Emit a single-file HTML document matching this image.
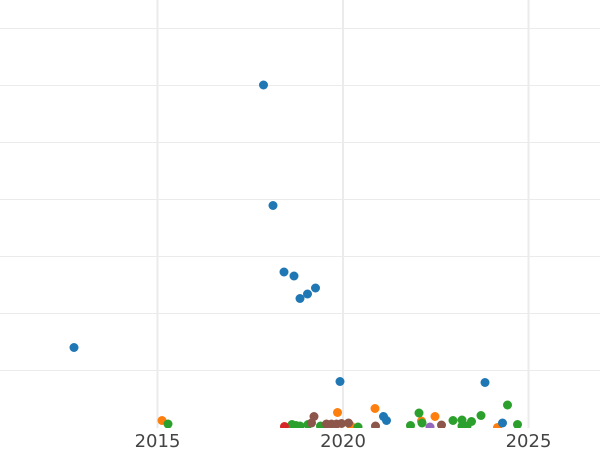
<!DOCTYPE html>
<html>
<head>
<meta charset="utf-8">
<style>
html,body{margin:0;padding:0;background:#fff;}
svg{display:block;}
</style>
</head>
<body>
<svg width="600" height="450" viewBox="0 0 600 450" xmlns="http://www.w3.org/2000/svg">
<defs>
<clipPath id="plot"><rect x="0" y="0" width="600" height="428"/></clipPath>
</defs>
<rect x="0" y="0" width="600" height="450" fill="#fff"/>
<g stroke="#ebebeb" stroke-width="1">
<line x1="0" y1="28.5" x2="600" y2="28.5"/>
<line x1="0" y1="85.5" x2="600" y2="85.5"/>
<line x1="0" y1="142.5" x2="600" y2="142.5"/>
<line x1="0" y1="199.5" x2="600" y2="199.5"/>
<line x1="0" y1="256.5" x2="600" y2="256.5"/>
<line x1="0" y1="313.5" x2="600" y2="313.5"/>
<line x1="0" y1="370.5" x2="600" y2="370.5"/>
</g>
<g stroke="#ebebeb" stroke-width="2">
<line x1="157.5" y1="0" x2="157.5" y2="428"/>
<line x1="343" y1="0" x2="343" y2="428"/>
<line x1="528.5" y1="0" x2="528.5" y2="428"/>
</g>
<g clip-path="url(#plot)">
<g fill="#ff7f0e">
<circle cx="162" cy="420.5" r="4.5"/>
<circle cx="337.5" cy="412.5" r="4.5"/>
<circle cx="351" cy="426" r="4.5"/>
<circle cx="375" cy="408.5" r="4.5"/>
<circle cx="421.5" cy="421" r="4.5"/>
<circle cx="435" cy="416.5" r="4.5"/>
<circle cx="497.5" cy="427.5" r="4.5"/>
</g>
<g fill="#2ca02c">
<circle cx="168" cy="424" r="4.5"/>
<circle cx="292" cy="424.5" r="4.5"/>
<circle cx="296" cy="425.5" r="4.5"/>
<circle cx="300" cy="426" r="4.5"/>
<circle cx="308" cy="424.5" r="4.5"/>
<circle cx="320.5" cy="426" r="4.5"/>
<circle cx="358" cy="427" r="4.5"/>
<circle cx="410.5" cy="425.5" r="4.5"/>
<circle cx="419" cy="413" r="4.5"/>
<circle cx="422" cy="423" r="4.5"/>
<circle cx="453" cy="420.5" r="4.5"/>
<circle cx="462" cy="420" r="4.5"/>
<circle cx="462" cy="426" r="4.5"/>
<circle cx="467" cy="426" r="4.5"/>
<circle cx="471.5" cy="421.5" r="4.5"/>
<circle cx="481" cy="415.5" r="4.5"/>
<circle cx="507.5" cy="405" r="4.5"/>
<circle cx="517.5" cy="424.5" r="4.5"/>
</g>
<g fill="#d62728">
<circle cx="284.5" cy="426.5" r="4.5"/>
</g>
<g fill="#9467bd">
<circle cx="430" cy="427" r="4.5"/>
</g>
<g fill="#8c564b">
<circle cx="311.5" cy="423" r="4.5"/>
<circle cx="314" cy="416.5" r="4.5"/>
<circle cx="326.5" cy="424" r="4.5"/>
<circle cx="331.5" cy="424" r="4.5"/>
<circle cx="336.5" cy="424" r="4.5"/>
<circle cx="341.5" cy="423.5" r="4.5"/>
<circle cx="348.5" cy="423" r="4.5"/>
<circle cx="375.5" cy="426" r="4.5"/>
<circle cx="441.5" cy="425" r="4.5"/>
</g>
<g fill="#1f77b4">
<circle cx="74" cy="347.5" r="4.5"/>
<circle cx="263.5" cy="85" r="4.5"/>
<circle cx="273" cy="205.5" r="4.5"/>
<circle cx="284" cy="272" r="4.5"/>
<circle cx="294" cy="276" r="4.5"/>
<circle cx="300" cy="298.5" r="4.5"/>
<circle cx="307.5" cy="294" r="4.5"/>
<circle cx="315.5" cy="288" r="4.5"/>
<circle cx="340" cy="381.5" r="4.5"/>
<circle cx="383.5" cy="416.5" r="4.5"/>
<circle cx="386.5" cy="420.5" r="4.5"/>
<circle cx="485" cy="382.5" r="4.5"/>
<circle cx="502.5" cy="423" r="4.5"/>
</g>
</g>
<g font-family="'DejaVu Sans', 'Liberation Sans', sans-serif" font-size="18" fill="#444" text-anchor="middle">
<text x="157.5" y="447">2015</text>
<text x="343" y="447">2020</text>
<text x="528.5" y="447">2025</text>
</g>
</svg>
</body>
</html>
